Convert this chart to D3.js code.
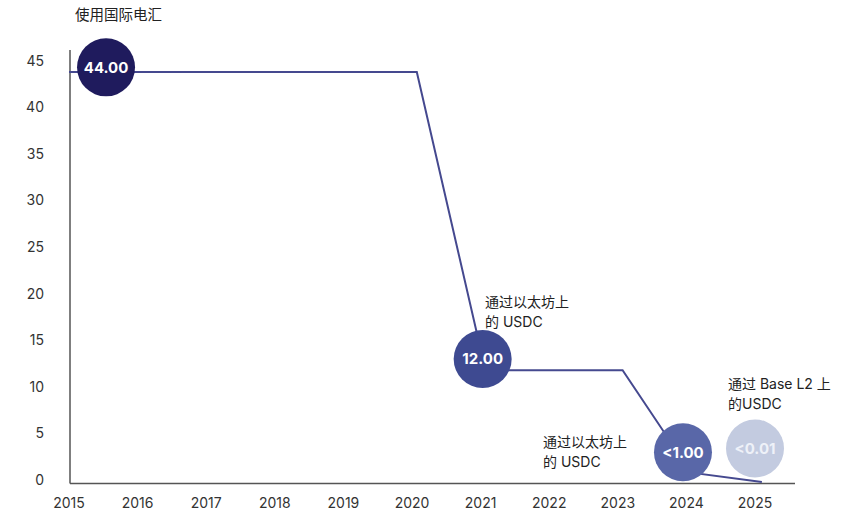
<!DOCTYPE html>
<html>
<head>
<meta charset="utf-8">
<script src="https://cdn.jsdelivr.net/npm/d3@7"></script>
<style>
  body { margin: 0; background: #fff; }
  text { font-family: Inter, "Noto Sans CJK SC", sans-serif; }
</style>
</head>
<body>
<svg id="chart" width="848" height="525"></svg>
<script>
// axis ticks
var years = [2015, 2016, 2017, 2018, 2019, 2020, 2021, 2022, 2023, 2024, 2025];
var yTicks = [0, 5, 10, 15, 20, 25, 30, 35, 40, 45];

// cost line (year, value)
var lineYears = [2015, 2020.07, 2021.07, 2023.07, 2024.07, 2025.1];
var lineValues = [44, 44, 12, 12, 1, 0];

// bubbles
var bubbleLabels = ["44.00", "12.00", "<1.00", "<0.01"];
var bubbleYears = [2015.54, 2021.03, 2023.95, 2025.0];
var bubbleValues = [44.5, 13.2, 3.2, 3.6];
var bubbleColors = ["#1f1b5d", "#3e4a91", "#5967a8", "#c3cbe0"];

// notes
var notes = [["使用国际电汇"], ["通过以太坊上", "的 USDC"], ["通过以太坊上", "的 USDC"], ["通过 Base L2 上", "的USDC"]];

var svg = d3.select("#chart");

var x = d3.scaleLinear().domain([2015, 2025]).range([69, 755]);
var y = d3.scaleLinear().domain([0, 45]).range([482, 62.7]);

// axis lines
svg.append("line").attr("x1", 70).attr("x2", 70).attr("y1", 50).attr("y2", 483.5)
  .attr("stroke", "#555").attr("stroke-width", 1.5);
svg.append("line").attr("x1", 70).attr("x2", 795).attr("y1", 483.5).attr("y2", 483.5)
  .attr("stroke", "#555").attr("stroke-width", 1.5);

// y tick labels
svg.selectAll(".ylab").data(yTicks).enter().append("text")
  .attr("class", "ylab")
  .attr("x", 44)
  .attr("y", function (d) { return y(d) - 2; })
  .attr("dy", "0.35em")
  .attr("text-anchor", "end")
  .attr("font-size", 14)
  .attr("fill", "#333")
  .text(function (d) { return d; });

// x tick labels
svg.selectAll(".xlab").data(years).enter().append("text")
  .attr("class", "xlab")
  .attr("x", function (d) { return x(d); })
  .attr("y", 503)
  .attr("dy", "0.35em")
  .attr("text-anchor", "middle")
  .attr("font-size", 14)
  .attr("fill", "#333")
  .text(function (d) { return d; });

// line
var pts = lineYears.map(function (d, i) { return [d, lineValues[i]]; });
var line = d3.line().x(function (d) { return x(d[0]); }).y(function (d) { return y(d[1]); });
svg.append("path").attr("d", line(pts))
  .attr("fill", "none").attr("stroke", "#45498f").attr("stroke-width", 2);

// bubbles
var bubbles = svg.selectAll(".bubble").data(bubbleLabels).enter().append("g")
  .attr("class", "bubble")
  .attr("transform", function (d, i) {
    return "translate(" + x(bubbleYears[i]) + "," + y(bubbleValues[i]) + ")";
  });

bubbles.append("circle").attr("r", 29)
  .attr("fill", function (d, i) { return bubbleColors[i]; });

bubbles.append("text")
  .attr("text-anchor", "middle")
  .attr("dy", "0.36em")
  .attr("font-size", 15)
  .attr("font-weight", 700)
  .attr("fill", function (d, i) { return i == 3 ? "#eef1f8" : "#fff"; })
  .text(function (d) { return d; });

// notes
var notePos = [[75, 15], [485, 302], [543, 442], [728, 384]];
notes.forEach(function (lines, i) {
  var t = svg.append("text")
    .attr("x", notePos[i][0])
    .attr("y", notePos[i][1])
    .attr("font-size", i == 0 ? 14.5 : 14)
    .attr("fill", "#222");
  lines.forEach(function (s, j) {
    t.append("tspan")
      .attr("x", notePos[i][0])
      .attr("y", notePos[i][1] + j * 20)
      .attr("dy", "0.35em")
      .text(s);
  });
});
</script>
</body>
</html>
